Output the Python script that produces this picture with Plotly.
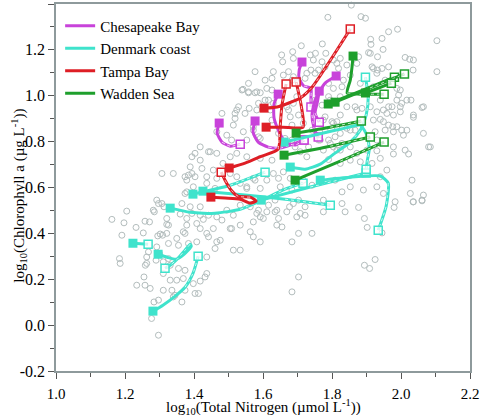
import plotly.graph_objects as go

# ---------------- background observations (log10 TN, log10 Chl a) ----------------
GRAY = [
(1.856,1.395),(1.788,1.342),(1.884,1.345),(1.897,1.338),(1.964,1.279),(1.990,1.290),(2.104,1.240),(1.912,1.246),(1.945,1.250),(1.913,1.224),
(1.711,1.218),(1.772,1.226),(1.686,1.192),(1.657,1.148),(1.752,1.185),(1.782,1.185),(1.824,1.163),(1.877,1.170),(1.906,1.188),(1.932,1.170),
(1.948,1.202),(2.012,1.167),(2.025,1.159),(2.036,1.156),(2.104,1.105),(2.035,1.112),(1.964,1.126),(1.932,1.112),(1.920,1.119),(1.872,1.141),
(1.843,1.134),(1.814,1.141),(1.771,1.148),(1.739,1.112),(1.727,1.098),(1.630,1.105),(1.611,1.032),(1.582,1.017),(1.558,1.017),(1.542,1.028),
(1.795,0.981),(1.833,1.068),(1.853,1.090),(1.920,1.039),(1.959,1.057),(1.988,1.032),(1.998,1.025),(1.940,0.981),(1.988,0.981),(1.974,0.952),
(1.998,0.952),(2.029,0.981),(2.036,0.906),(2.061,0.949),(1.978,0.916),(1.959,0.923),(1.949,0.887),(1.976,0.865),(1.988,0.865),(2.007,0.828),
(2.017,0.850),(2.065,0.836),(2.080,0.777),(2.022,0.746),(1.978,0.746),(1.930,0.760),(1.940,0.727),(1.882,0.712),(1.916,0.705),(1.853,0.719),
(1.824,0.705),(1.790,0.722),(2.032,0.632),(2.065,0.567),(2.061,0.545),(2.027,0.574),(2.036,0.538),(1.983,0.538),(1.949,0.574),(1.930,0.603),
(1.891,0.589),(1.853,0.603),(1.829,0.581),(1.959,0.676),(1.940,0.647),(1.809,0.632),(1.742,0.610),(1.717,0.632),(1.659,0.668),(1.630,0.661),
(1.611,0.632),(1.572,0.640),(1.553,0.603),(1.650,0.603),(1.684,0.589),(1.775,0.545),(1.626,0.719),(1.592,0.727),(1.553,0.734),(1.553,0.807),
(1.587,0.821),(1.611,0.865),(1.572,0.865),(1.543,0.843),(1.548,0.923),(1.582,0.938),(1.606,0.981),(1.630,0.967),(1.669,0.952),(1.679,0.908),
(1.698,0.996),(1.688,1.083),(1.746,1.156),(1.882,1.054),(1.872,0.938),(1.843,0.952),(1.824,0.916),(1.804,0.880),(1.775,0.894),(1.853,0.850),
(1.824,0.836),(1.795,0.792),(1.766,0.807),(1.775,0.763),(1.814,0.763),(1.853,0.777),(1.727,0.734),(1.708,0.756),(1.930,0.807),(1.925,0.843),
(1.534,0.523),(1.563,0.516),(1.587,0.501),(1.611,0.494),(1.635,0.494),(1.572,0.450),(1.592,0.472),(1.601,0.465),(1.645,0.465),(1.640,0.436),
(1.655,0.428),(1.572,0.385),(1.534,0.327),(1.684,0.363),(1.703,0.400),(1.742,0.400),(1.698,0.472),(1.722,0.479),(1.677,0.516),(1.703,0.545),
(1.775,0.494),(1.829,0.530),(1.838,0.494),(1.877,0.513),(1.894,0.465),(1.902,0.426),(1.945,0.402),(1.925,0.286),(1.894,0.261),(1.909,0.247),
(1.703,0.210),(1.684,0.145),(1.980,0.513),(2.035,0.537),(2.061,0.542),
(1.162,0.461),(1.205,0.497),(1.197,0.446),(1.191,0.392),(1.232,0.426),(1.258,0.453),(1.271,0.450),(1.253,0.402),(1.285,0.494),(1.297,0.530),
(1.313,0.516),(1.321,0.439),(1.309,0.392),(1.295,0.389),(1.360,0.484),(1.389,0.516),(1.379,0.465),(1.408,0.443),(1.427,0.461),(1.374,0.400),
(1.437,0.400),(1.456,0.421),(1.481,0.458),(1.505,0.421),(1.514,0.479),(1.350,0.378),(1.326,0.356),(1.292,0.341),(1.268,0.319),(1.263,0.269),
(1.263,0.297),(1.300,0.312),(1.311,0.276),(1.311,0.225),(1.331,0.261),(1.331,0.196),(1.355,0.247),(1.350,0.196),(1.374,0.239),(1.369,0.203),
(1.355,0.348),(1.384,0.356),(1.408,0.363),(1.437,0.297),(1.437,0.225),(1.432,0.210),(1.413,0.138),(1.403,0.138),(1.374,0.152),(1.365,0.101),
(1.340,0.123),(1.336,0.152),(1.311,0.152),(1.297,0.109),(1.284,0.101),(1.277,0.029),(1.297,-0.044),(1.345,0.130),(1.184,0.290),(1.186,0.269),
(1.234,0.174),(1.258,0.174),(1.255,0.210),(1.273,0.160),(1.259,0.261),(1.290,0.283),(1.326,0.290),(1.418,0.192),(1.398,0.181),(1.514,0.327),
(1.466,0.363),
(1.529,0.952),(1.519,0.923),(1.466,0.843),(1.495,0.828),(1.509,0.807),(1.418,0.777),(1.442,0.756),(1.466,0.749),(1.484,0.705),(1.505,0.734),
(1.524,0.749),(1.423,0.683),(1.389,0.690),(1.374,0.647),(1.403,0.647),(1.394,0.661),(1.437,0.647),(1.437,0.618),(1.398,0.603),(1.340,0.661),
(1.307,0.661),(1.307,0.530),(1.292,0.545),(1.365,0.530),(1.505,0.661),(1.456,0.676),(1.379,0.581),
(1.539,1.025),(1.558,1.013),(1.577,1.013),(1.403,0.749),(1.394,0.734),(1.418,0.719),(1.447,0.756),(1.481,0.923),(1.524,0.938),(1.519,0.901),
(1.514,0.872),
(1.384,0.654),(1.379,0.632),(1.374,0.574),(1.466,0.640),(1.461,0.596),(1.418,0.516),(1.394,0.487),(1.418,0.479),(1.442,0.479),(1.466,0.472),
(1.495,0.501),(1.282,0.501),(1.321,0.465),(1.326,0.436),(1.302,0.397),(1.321,0.400),(1.379,0.436),(1.369,0.407),(1.418,0.421),(1.442,0.385),
(1.509,0.421),(1.534,0.436),(1.476,0.370),(1.461,0.334),(1.582,0.487),(1.616,0.523),(1.640,0.501),(1.669,0.494),(1.688,0.530),(1.708,0.487),
(1.722,0.516),(1.592,0.363),(1.563,0.407),(1.534,0.618),(1.553,0.596),(1.524,0.647),(1.577,0.632),(1.592,0.596),(1.645,0.640),(1.679,0.640),
(1.635,0.545),
(1.558,1.054),(1.592,1.013),(1.626,1.025),(1.616,0.981),(1.587,0.967),(1.560,0.945),(1.572,0.850),(1.592,0.814),(1.626,0.894),(1.621,0.938),
(1.674,0.938),(1.688,0.967),(1.703,0.916),(1.684,0.872),(1.717,0.880),(1.742,0.850),(1.780,0.908),(1.800,0.887),(1.814,0.865),(1.780,0.850),
(1.761,0.807),(1.790,0.807),(1.809,0.821),(1.829,0.792),(1.804,0.777),(1.684,0.807),(1.664,0.814),(1.645,0.836),(1.693,0.777),(1.732,0.777),
(1.751,1.098),(1.761,1.112),(1.780,1.126),(1.790,1.054),(1.804,1.032),(1.829,1.039),(1.824,0.996),(1.790,0.996),(1.771,0.959),(1.751,0.981),
(1.722,1.076),(1.703,1.061),(1.684,1.068),(1.674,1.105),(1.659,1.090),(1.737,1.178),(1.626,1.076),(1.606,1.068),(1.577,1.105),(1.688,1.163),
(1.654,1.178),(1.804,1.156),(1.819,1.119),
(1.911,1.185),(1.916,1.126),(1.945,1.119),(1.930,1.098),(1.954,1.068),(1.993,1.003),(2.002,0.967),(2.017,0.981),(1.998,0.930),(1.964,0.952),
(1.949,0.938),(1.930,0.930),(1.911,0.952),(1.887,0.945),(1.867,0.952),(1.814,0.887),(1.843,0.858),(1.867,0.850),(1.920,0.894),(1.940,0.897),
(1.964,0.872),(1.954,0.850),(1.978,0.843),(2.002,0.850),(2.036,0.916),(2.065,0.952),(2.085,0.777),(1.978,0.777),(2.012,0.763),(1.901,0.763),
(1.872,0.749),(1.824,0.763),
]
GRAY_X = [p[0] for p in GRAY]
GRAY_Y = [p[1] for p in GRAY]

# ---------------- trajectories: first point = start (filled), last = end (open) ----------------
CHES_X = [
    [1.473, 1.467, 1.481, 1.505, 1.534],
    [1.577, 1.571, 1.586, 1.615, 1.650, 1.687, 1.719],
    [1.644, 1.632, 1.632, 1.647, 1.664, 1.693, 1.719],
    [1.713, 1.705, 1.705, 1.719, 1.739, 1.739, 1.739],
    [1.763, 1.757, 1.751, 1.763],
    [1.812, 1.780, 1.751, 1.742, 1.748, 1.760],
]
CHES_Y = [
    [0.881, 0.837, 0.798, 0.780, 0.789],
    [0.890, 0.842, 0.798, 0.776, 0.772, 0.789, 0.807],
    [1.007, 0.964, 0.903, 0.842, 0.798, 0.785, 0.807],
    [1.147, 1.112, 1.073, 1.042, 1.033, 0.994, 0.951],
    [1.020, 0.968, 0.924, 0.885],
    [1.086, 1.055, 0.981, 0.916, 0.859, 0.820],
]
DEN_X = [
    [1.223, 1.267],
    [1.296, 1.322, 1.348, 1.371, 1.392, 1.389, 1.374, 1.351, 1.331, 1.316],
    [1.281, 1.310, 1.342, 1.374, 1.397, 1.412],
    [1.331, 1.389, 1.461, 1.534, 1.597, 1.664, 1.716],
    [1.397, 1.505, 1.606],
    [1.426, 1.548, 1.664, 1.795],
    [1.595, 1.737, 1.899],
    [1.679, 1.722, 1.766, 1.809, 1.853, 1.882, 1.899, 1.905, 1.897],
    [1.661, 1.751, 1.838, 1.882, 1.902, 1.908, 1.902, 1.899],
    [1.766, 1.853, 1.940, 1.963, 1.957, 1.934],
]
DEN_Y = [
    [0.357, 0.353],
    [0.309, 0.296, 0.287, 0.309, 0.344, 0.353, 0.327, 0.287, 0.261, 0.248],
    [0.061, 0.087, 0.122, 0.165, 0.226, 0.300],
    [0.510, 0.492, 0.488, 0.505, 0.545, 0.593, 0.619],
    [0.571, 0.610, 0.667],
    [0.584, 0.567, 0.549, 0.523],
    [0.545, 0.602, 0.663],
    [0.689, 0.680, 0.702, 0.750, 0.798, 0.850, 0.916, 0.994, 1.081],
    [0.798, 0.829, 0.859, 0.872, 0.824, 0.767, 0.715, 0.680],
    [0.632, 0.645, 0.650, 0.619, 0.519, 0.414],
]
TAMPA_X = [
    [1.449, 1.490, 1.534, 1.563, 1.580, 1.563, 1.528, 1.508, 1.490, 1.479],
    [1.502, 1.548, 1.597, 1.644, 1.650, 1.655, 1.667],
    [1.603, 1.641, 1.708, 1.742, 1.853],
    [1.609, 1.658, 1.716, 1.711, 1.696],
]
TAMPA_Y = [
    [0.558, 0.554, 0.549, 0.532, 0.541, 0.558, 0.562, 0.588, 0.632, 0.667],
    [0.685, 0.706, 0.737, 0.767, 0.870, 0.959, 1.051],
    [0.946, 0.951, 0.990, 1.037, 1.291],
    [0.863, 0.863, 0.863, 0.955, 1.060],
]
WAD_X = [
    [1.861, 1.858, 1.853, 1.844, 1.882, 1.951],
    [1.789, 1.882, 1.981],
    [1.809, 1.910, 2.010],
    [1.897, 1.972],
    [1.696, 1.795, 1.885],
    [1.661, 1.795, 1.911],
    [1.693, 1.824, 1.951],
]
WAD_Y = [
    [1.173, 1.125, 1.068, 1.012, 1.007, 1.007],
    [0.964, 1.020, 1.081],
    [0.972, 1.034, 1.095],
    [1.012, 1.055],
    [0.837, 0.863, 0.890],
    [0.741, 0.780, 0.820],
    [0.632, 0.715, 0.798],
]

SITES = ["Chesapeake Bay", "Denmark coast", "Tampa Bay", "Wadden Sea"]
COLORS = ["#C843DA", "#3FE3CC", "#DE1E25", "#1E9F2C"]
DATA = [(CHES_X, CHES_Y), (DEN_X, DEN_Y), (TAMPA_X, TAMPA_Y), (WAD_X, WAD_Y)]

X_TICKS = [1.0, 1.2, 1.4, 1.6, 1.8, 2.0, 2.2]
X_TICKTEXT = ["1.0", "1.2", "1.4", "1.6", "1.8", "2.0", "2.2"]
Y_TICKS = [-0.2, 0.0, 0.2, 0.4, 0.6, 0.8, 1.0, 1.2, 1.4]
Y_TICKTEXT = ["-0.2", "0.0", "0.2", "0.4", "0.6", "0.8", "1.0", "1.2", "1.4"]

FONT = "Liberation Serif, Times New Roman, serif"

fig = go.Figure()

fig.add_trace(go.Scatter(
    x=GRAY_X, y=GRAY_Y, mode="markers", showlegend=False, hoverinfo="skip",
    marker=dict(symbol="circle-open", size=6, color="#B3BDBD", line=dict(width=1)),
    cliponaxis=False,
))

for (xs_list, ys_list), col in zip(DATA, COLORS):
    for xs, ys in zip(xs_list, ys_list):
        fig.add_trace(go.Scatter(
            x=xs, y=ys, mode="lines", showlegend=False, hoverinfo="skip",
            line=dict(color=col, width=3, shape="spline", smoothing=0.6),
        ))
        h = len(xs) // 2
        fig.add_trace(go.Scatter(
            x=xs[h:], y=ys[h:], mode="lines", showlegend=False, hoverinfo="skip",
            line=dict(color="rgba(255,255,255,0.75)", width=1, dash="dot",
                      shape="spline", smoothing=0.6),
        ))
        fig.add_trace(go.Scatter(
            x=[xs[0]], y=[ys[0]], mode="markers", showlegend=False, hoverinfo="skip",
            marker=dict(symbol="square", size=9, color=col, line=dict(width=0)),
        ))
        fig.add_trace(go.Scatter(
            x=[xs[-1]], y=[ys[-1]], mode="markers", showlegend=False, hoverinfo="skip",
            marker=dict(symbol="square", size=8, color="rgba(255,255,255,0.75)",
                        line=dict(width=1.5, color=col)),
        ))

for name, col in zip(SITES, COLORS):
    fig.add_trace(go.Scatter(
        x=[None], y=[None], mode="lines", name=name,
        line=dict(color=col, width=3),
    ))

axis_common = dict(
    showgrid=False, zeroline=False, showline=True, mirror=True, automargin=False,
    linecolor="#8E9A9C", linewidth=1.5,
    ticks="outside", ticklen=6, tickwidth=1, tickcolor="#555555",
    minor=dict(ticks="outside", ticklen=4, tickwidth=1, tickcolor="#555555", dtick=0.1),
)

fig.update_layout(
    width=480, height=415,
    margin=dict(l=56, r=10, t=4, b=44, autoexpand=False),
    paper_bgcolor="white", plot_bgcolor="white",
    font=dict(family=FONT, size=15, color="black"),
    xaxis=dict(range=[1.0, 2.2], tickvals=X_TICKS, ticktext=X_TICKTEXT,
               ticklabelstandoff=2, tickfont=dict(family=FONT, size=15, color="black"),
               **axis_common),
    yaxis=dict(range=[-0.2, 1.4], tickvals=Y_TICKS, ticktext=Y_TICKTEXT,
               tickfont=dict(family=FONT, size=16, color="black"), **axis_common),
    legend=dict(x=0.01, y=0.985, xanchor="left", yanchor="top",
                bgcolor="rgba(0,0,0,0)", font=dict(family=FONT, size=15),
                tracegroupgap=0),
    showlegend=True,
)

fig.add_annotation(
    text="log<sub>10</sub>(Total Nitrogen (µmol L<sup>-1</sup>))",
    xref="paper", yref="paper", x=0.5, y=-0.098, xanchor="center", yanchor="middle",
    showarrow=False, font=dict(family=FONT, size=15),
)
fig.add_annotation(
    text="log<sub>10</sub>(Chlorophyll a (µg L<sup>-1</sup>))",
    xref="paper", yref="paper", x=-0.09, y=0.477, xanchor="center", yanchor="middle",
    textangle=-90, showarrow=False, font=dict(family=FONT, size=15),
)

fig.write_html(
    "out.html",
    config={"displayModeBar": False},
    post_script="document.body.style.margin='0';document.body.style.overflow='hidden';",
)
